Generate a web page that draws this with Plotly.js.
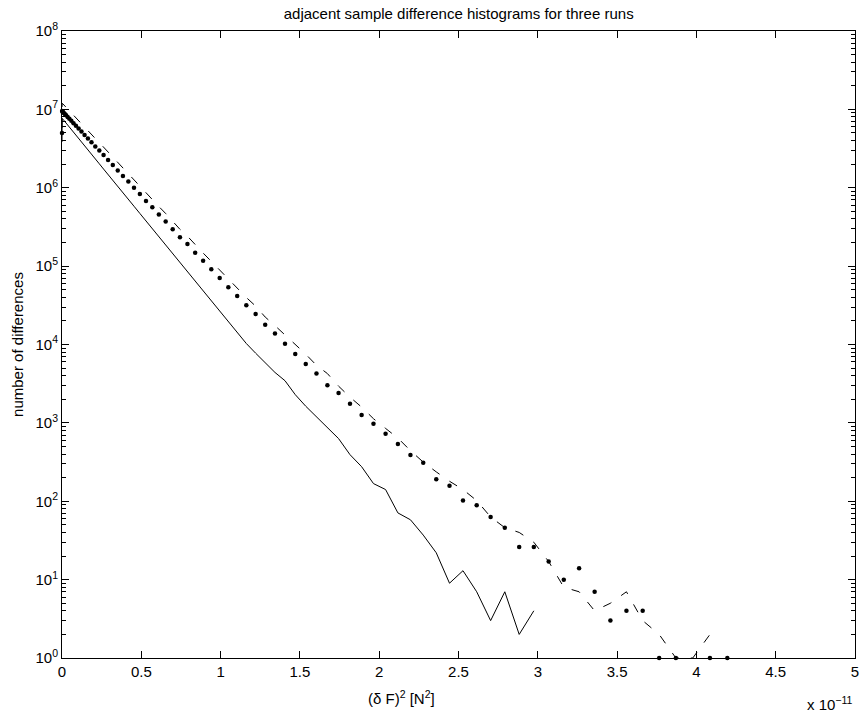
<!DOCTYPE html>
<html>
<head>
<meta charset="utf-8">
<script src="https://cdn.plot.ly/plotly-3.0.1.min.js"></script>
<style>html,body{margin:0;padding:0;background:#fff;}#chart{width:863px;height:715px;}</style>
</head>
<body>
<div id="chart"></div>
<script>
// bin positions (delta F)^2 in units of 1e-11 N^2
const binX = [0, 0.0007, 0.0029, 0.0065, 0.0116, 0.0182, 0.0261, 0.0356, 0.0465, 0.0588,
  0.0726, 0.0879, 0.1046, 0.1227, 0.1424, 0.1634, 0.1859, 0.2099, 0.2353, 0.2622,
  0.2905, 0.3203, 0.3515, 0.3842, 0.4184, 0.4539, 0.4910, 0.5295, 0.5694, 0.6108,
  0.6537, 0.6980, 0.7437, 0.7909, 0.8396, 0.8897, 0.9413, 0.9943, 1.0488, 1.1047,
  1.1621, 1.2209, 1.2812, 1.3429, 1.4061, 1.4708, 1.5369, 1.6044, 1.6734, 1.7439,
  1.8158, 1.8891, 1.9639, 2.0402, 2.1179, 2.1971, 2.2777, 2.3598, 2.4433, 2.5283,
  2.6147, 2.7026, 2.7919, 2.8827, 2.9749, 3.0686, 3.1638, 3.2604, 3.3584, 3.4579,
  3.5589, 3.6613, 3.7652, 3.8705, 3.9772, 4.0855, 4.1951];

// run 1: solid line
const runSolid = [3850000, 7710000, 7620000, 7470000, 7250000, 6980000, 6670000, 6320000, 5940000, 5540000,
  5120000, 4690000, 4270000, 3850000, 3440000, 3050000, 2680000, 2340000, 2020000, 1730000,
  1480000, 1240000, 1040000, 865000, 711000, 581000, 470000, 378000, 301000, 237000,
  186000, 144000, 111000, 84900, 64300, 48300, 36000, 26600, 19500, 14200,
  10300, 7750, 5860, 4400, 3450, 2290, 1630, 1190, 853, 630,
  393, 276, 168, 141, 71, 58, 37, 22, 9, 13,
  7, 3, 7, 2, 4];

// run 2: dashed line
const runDashed = [5800000, 12000000, 11800000, 11700000, 11400000, 11000000, 10600000, 10100000, 9560000, 9000000,
  8400000, 7780000, 7170000, 6560000, 5950000, 5370000, 4790000, 4250000, 3770000, 3290000,
  2850000, 2460000, 2090000, 1780000, 1510000, 1260000, 1050000, 851000, 708000, 576000,
  469000, 372000, 295000, 241000, 186000, 147000, 115000, 89200, 67700, 52500,
  39800, 30900, 22400, 17400, 13200, 10000, 7520, 5430, 4260, 2940,
  2130, 1590, 1130, 850, 640, 442, 316, 237, 180, 141,
  102, 63, 46, 40, 30, 17, 8, 7, 4, 5,
  7, 3, 2, 1, 1, 2];

// run 3: dots
const runDots = [5000000, 9550000, 9330000, 9250000, 9020000, 8730000, 8390000, 8010000, 7590000, 7140000,
  6670000, 6180000, 5690000, 5210000, 4720000, 4260000, 3800000, 3370000, 2990000, 2610000,
  2260000, 1950000, 1660000, 1410000, 1200000, 1000000, 830000, 676000, 562000, 457000,
  372000, 295000, 234000, 191000, 148000, 117000, 91200, 70800, 53700, 41700,
  31600, 24500, 17800, 13800, 10200, 7590, 5620, 4270, 3020, 2400,
  1760, 1260, 977, 724, 537, 389, 309, 191, 158, 102,
  89, 63, 46, 26, 26, 17, 10, 14, 7, 3,
  4, 4, 1, 1, null, 1, 1];

const xTickVals = [0, 0.5, 1, 1.5, 2, 2.5, 3, 3.5, 4, 4.5, 5];
const xTickText = ['0', '0.5', '1', '1.5', '2', '2.5', '3', '3.5', '4', '4.5', '5'];
const yTickVals = [1, 10, 100, 1000, 1e4, 1e5, 1e6, 1e7, 1e8];
const yTickText = ['10<sup>0</sup>', '10<sup>1</sup>', '10<sup>2</sup>', '10<sup>3</sup>', '10<sup>4</sup>',
  '10<sup>5</sup>', '10<sup>6</sup>', '10<sup>7</sup>', '10<sup>8</sup>'];

const FONT = 'Liberation Sans, Arial, Helvetica, sans-serif';

const traces = [
  { x: binX.slice(0, runSolid.length), y: runSolid, type: 'scatter', mode: 'lines',
    line: { color: '#000', width: 1 }, hoverinfo: 'skip' },
  { x: binX.slice(0, runDashed.length), y: runDashed, type: 'scatter', mode: 'lines',
    line: { color: '#000', width: 1, dash: '9px,12px' }, hoverinfo: 'skip' },
  { x: binX.slice(0, runDots.length), y: runDots, type: 'scatter', mode: 'markers',
    marker: { color: '#000', size: 4.5, line: { width: 0 } }, hoverinfo: 'skip', cliponaxis: false }
];

const layout = {
  width: 863, height: 715,
  margin: { l: 62, r: 8, t: 31, b: 57, pad: 0 },
  paper_bgcolor: '#fff', plot_bgcolor: '#fff',
  showlegend: false,
  font: { family: FONT, size: 15, color: '#000' },
  title: { text: 'adjacent sample difference histograms for three runs',
    font: { family: FONT, size: 15, color: '#000' }, x: 0.5315, xanchor: 'center', y: 0.981, yanchor: 'middle' },
  xaxis: {
    range: [0, 5], tickvals: xTickVals, ticktext: xTickText,
    ticks: 'inside', ticklen: 7, tickwidth: 1, tickcolor: '#000',
    showline: true, linecolor: '#000', linewidth: 1, mirror: 'ticks',
    showgrid: false, zeroline: false,
    tickfont: { family: FONT, size: 15, color: '#000' }
  },
  yaxis: {
    type: 'log', range: [0, 8], tickvals: yTickVals, ticktext: yTickText,
    ticks: 'inside', ticklen: 7, tickwidth: 1, tickcolor: '#000',
    showline: true, linecolor: '#000', linewidth: 1, mirror: 'ticks',
    showgrid: false, zeroline: false,
    minor: { ticks: 'inside', ticklen: 4, tickwidth: 1, tickcolor: '#000', dtick: 'D1', showgrid: false },
    tickfont: { family: FONT, size: 15, color: '#000' },
    title: { text: 'number of differences', font: { family: FONT, size: 15, color: '#000' }, standoff: 8 }
  },
  annotations: [
    { text: '(δ F)<sup>2</sup> [N<sup>2</sup>]', xref: 'paper', yref: 'paper', x: 0.428, y: -0.063,
      xanchor: 'center', yanchor: 'middle', showarrow: false,
      font: { family: FONT, size: 15, color: '#000' } },
    { text: 'x 10<sup>−11</sup>', xref: 'paper', yref: 'paper', x: 1.0, y: -0.072,
      xanchor: 'right', yanchor: 'middle', showarrow: false,
      font: { family: FONT, size: 15, color: '#000' } }
  ]
};

Plotly.newPlot('chart', traces, layout, { staticPlot: true, displayModeBar: false });
</script>
</body>
</html>
